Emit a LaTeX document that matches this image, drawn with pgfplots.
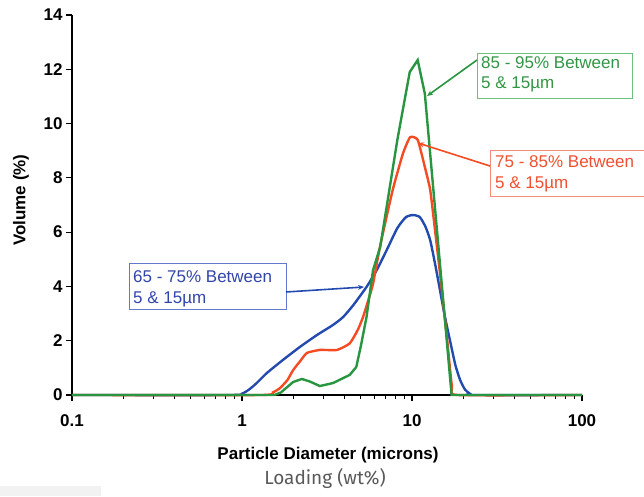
\documentclass[border=0pt]{standalone}
\usepackage{fontspec}
\setmainfont{Liberation Sans}
\newfontfamily\firafont{Fira Sans}
\usepackage{pgfplots}
\pgfplotsset{compat=1.18}
\usetikzlibrary{arrows.meta}
\definecolor{cblue}{RGB}{35,75,175}
\definecolor{cred}{RGB}{245,75,35}
\definecolor{cgreen}{RGB}{40,150,65}
\definecolor{tblue}{RGB}{50,70,170}
\definecolor{tred}{RGB}{240,80,50}
\definecolor{tgreen}{RGB}{50,150,70}
\definecolor{bblue}{RGB}{100,120,205}
\definecolor{bred}{RGB}{245,140,120}
\definecolor{bgreen}{RGB}{110,190,125}
\begin{document}
\begin{tikzpicture}
\path[use as bounding box] (0,0) rectangle (644pt,496pt);
\fill[black!5] (0,0) rectangle (101pt,10pt);
\begin{axis}[
  at={(72pt,101pt)}, anchor=south west,
  scale only axis, width=510pt, height=380pt,
  xmode=log, xmin=0.1, xmax=100, ymin=0, ymax=14,
  axis lines*=left, clip=false,
  axis line style={line width=1.8pt, black},
  tick align=outside,
  major tick length=6pt, minor tick length=4pt,
  every tick/.style={black, line width=1.2pt},
  xtick={0.1,1,10,100}, xticklabels={0.1,1,10,100},
  ytick={0,2,...,14},
  /pgf/number format/assume math mode=true,
  ticklabel style={font=\fontsize{17}{20}\selectfont\bfseries},
  xticklabel style={yshift=-10pt},
  label style={font=\fontsize{17}{20}\selectfont\bfseries},
  xlabel={Particle Diameter (microns)},
  ylabel={Volume (\%)},
  xlabel style={at={(axis description cs:0.502,-0.157)}, anchor=center},
  ylabel style={at={(axis description cs:-0.1,0.513)}, anchor=center},
]
\addplot[cblue, line width=2.4pt, smooth, tension=0.35] coordinates {
(0.1,0) (0.85,0) (1.0,0.05) (1.1,0.2) (1.22,0.44) (1.4,0.81) (1.74,1.29)
(2.19,1.77) (2.76,2.21) (3.43,2.58) (3.93,2.87) (4.5,3.3) (5.4,3.98)
(6.2,4.6) (7.1,5.34) (8.2,6.15) (9.2,6.55) (10.1,6.63) (11.1,6.56)
(12,6.2) (12.8,5.7) (13.7,4.8) (14.6,3.87) (15.6,2.9) (16.7,2.03)
(18,1.1) (19.2,0.55) (20.5,0.2) (21.9,0.05) (23,0) (100,0)};
\addplot[cred, line width=2.4pt, smooth, tension=0.3] coordinates {
(0.1,0) (1.3,0) (1.52,0.1) (1.67,0.25) (1.85,0.55) (2.0,0.92) (2.2,1.25)
(2.41,1.55) (2.87,1.66) (3.62,1.66) (4.3,1.9) (4.8,2.4) (5.15,2.87)
(5.6,3.6) (5.9,4.1) (6.5,5.5) (7.7,7.55) (8.85,8.9) (9.75,9.5) (10.8,9.4)
(11.9,8.4) (12.8,7.55) (13.7,6.0) (14.6,4.5) (16.1,2.03) (17.2,0.3)
(18.6,0) (100,0)};
\addplot[cgreen, line width=2.4pt] coordinates {
(0.1,0) (1.55,0) (1.7,0.1) (1.85,0.3) (2.0,0.48) (2.25,0.59) (2.5,0.5)
(2.87,0.33) (3.43,0.44) (4.3,0.74) (4.7,1.03) (5.0,1.8) (5.4,2.87)
(5.9,4.6) (6.5,5.45) (8.2,9.4) (9.7,11.9) (10.8,12.34) (11.9,11.1)
(17.1,0) (100,0)};
\end{axis}
% annotations
\draw[bgreen, line width=0.9pt, fill=white] (477pt,398pt) rectangle (632pt,443pt);
\node[tgreen, anchor=base west, inner sep=0pt, font=\fontsize{17}{20}\selectfont] at (481pt,427pt) {85 - 95\% Between};
\node[tgreen, anchor=base west, inner sep=0pt, font=\fontsize{17}{20}\selectfont] at (481pt,407pt) {5 \& 15µm};
\draw[cgreen, line width=1.6pt, -{Stealth[length=6pt,width=5pt]}] (477pt,436pt) -- (427pt,400pt);
\draw[bred, line width=0.9pt, fill=white] (490pt,300pt) rectangle (646pt,346pt);
\node[tred, anchor=base west, inner sep=0pt, font=\fontsize{17}{20}\selectfont] at (495pt,328pt) {75 - 85\% Between};
\node[tred, anchor=base west, inner sep=0pt, font=\fontsize{17}{20}\selectfont] at (495pt,308pt) {5 \& 15µm};
\draw[cred, line width=1.6pt, -{Stealth[length=6pt,width=5pt]}] (490pt,330pt) -- (418pt,353pt);
\draw[bblue, line width=0.9pt, fill=white] (129pt,187pt) rectangle (286pt,233pt);
\node[tblue, anchor=base west, inner sep=0pt, font=\fontsize{17}{20}\selectfont] at (133pt,214pt) {65 - 75\% Between};
\node[tblue, anchor=base west, inner sep=0pt, font=\fontsize{17}{20}\selectfont] at (133pt,193pt) {5 \& 15µm};
\draw[cblue, line width=1.6pt, -{Stealth[length=6pt,width=5pt]}] (286pt,204pt) -- (364pt,209pt);
\node[black!65, font=\firafont\fontsize{19}{22}\selectfont] at (325pt,18pt) {Loading (wt\%)};
\end{tikzpicture}
\end{document}
